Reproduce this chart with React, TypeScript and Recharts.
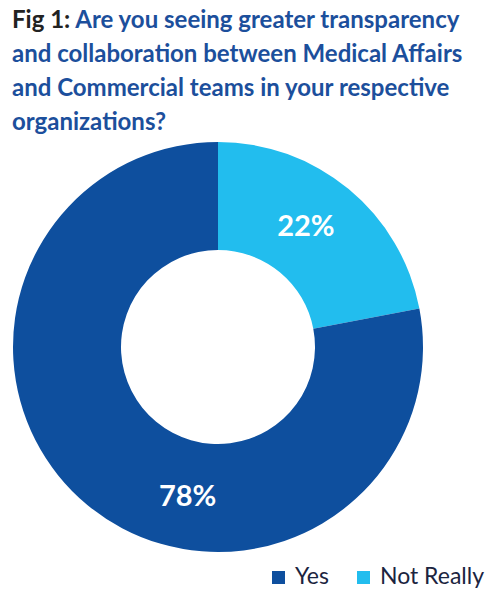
import { PieChart, Pie, Cell, Legend } from 'recharts';

const categories = ['Not Really', 'Yes'];
const shares = [22, 78];
const sliceColors = ['#22bdee', '#0e4f9e'];
// legend lists Yes first
const legendOrder = ['Yes', 'Not Really'];
// small angular nudge (deg) the source used when placing labels
const labelShift = [4, 28];

const titleLines = [
  'Are you seeing greater transparency',
  'and collaboration between Medical Affairs',
  'and Commercial teams in your respective',
  'organizations?',
];

const data = categories.map((name, i) => ({ name, value: shares[i] }));

const RAD = Math.PI / 180;

const renderLabel = (props: any) => {
  const { cx, cy, midAngle, innerRadius, outerRadius, index, value } = props;
  const r = (innerRadius + outerRadius) / 2;
  const a = (midAngle + labelShift[index]) * RAD;
  const x = cx + r * Math.cos(a);
  const y = cy - r * Math.sin(a);
  return (
    <text
      x={x}
      y={y}
      fill="#ffffff"
      textAnchor="middle"
      dominantBaseline="central"
      style={{ fontFamily: 'Lato, sans-serif', fontSize: 29, fontWeight: 700 }}
    >
      {`${value}%`}
    </text>
  );
};

const LegendContent = () => (
  <div style={{ display: 'flex', alignItems: 'flex-end', fontFamily: 'Lato, sans-serif', fontSize: 23, color: '#1b2440' }}>
    {legendOrder.map((name, i) => (
      <div key={name} style={{ display: 'flex', alignItems: 'baseline', marginRight: i === 0 ? 28 : 0 }}>
        <span
          style={{
            display: 'inline-block',
            width: 13,
            height: 13,
            background: sliceColors[categories.indexOf(name)],
            marginRight: 10,
          }}
        />
        <span>{name}</span>
      </div>
    ))}
  </div>
);

export default function App() {
  return (
    <div style={{ position: 'absolute', left: 0, top: 0, width: 495, height: 602, background: '#fff' }}>
      <PieChart
        width={495}
        height={602}
        margin={{ top: 0, right: 0, bottom: 0, left: 0 }}
        style={{ position: 'absolute', left: 0, top: 0 }}
      >
        <Pie
          data={data}
          dataKey="value"
          nameKey="name"
          cx={218}
          cy={347}
          innerRadius={97}
          outerRadius={205}
          startAngle={90}
          endAngle={-270}
          stroke="none"
          labelLine={false}
          label={renderLabel}
          isAnimationActive={false}
        >
          {data.map((d, i) => (
            <Cell key={d.name} fill={sliceColors[i]} />
          ))}
        </Pie>
        <Legend
          content={<LegendContent />}
          wrapperStyle={{ left: 272, top: 561, width: 230, bottom: 'auto' }}
        />
      </PieChart>
      <div
        style={{
          position: 'absolute',
          left: 12,
          top: 2,
          fontFamily: 'Lato, sans-serif',
          fontWeight: 700,
          fontSize: 24,
          lineHeight: '34px',
          color: '#1c4f9c',
          whiteSpace: 'nowrap',
        }}
      >
        <span style={{ color: '#222222' }}>Fig 1: </span>
        {titleLines.map((line, i) => (
          <span key={i}>
            {line}
            {i < titleLines.length - 1 && <br />}
          </span>
        ))}
      </div>
    </div>
  );
}
